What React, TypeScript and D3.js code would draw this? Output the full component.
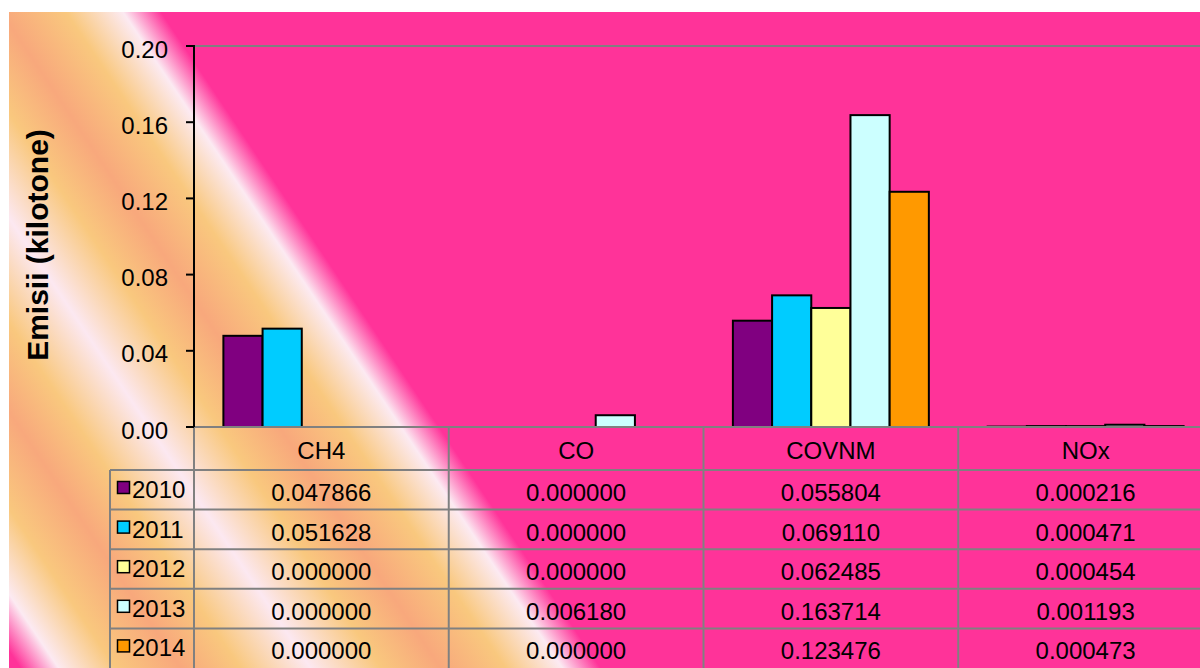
import React from "react";
import * as d3 from "d3";

const categories = ["CH4", "CO", "COVNM", "NOx"];
const years = ["2010", "2011", "2012", "2013", "2014"];
const v2010 = [0.047866, 0.0, 0.055804, 0.000216];
const v2011 = [0.051628, 0.0, 0.06911, 0.000471];
const v2012 = [0.0, 0.0, 0.062485, 0.000454];
const v2013 = [0.0, 0.00618, 0.163714, 0.001193];
const v2014 = [0.0, 0.0, 0.123476, 0.000473];
const yTicks = [0, 0.04, 0.08, 0.12, 0.16, 0.2];
const seriesColors = ["#800080", "#00CCFF", "#FFFF99", "#CCFFFF", "#FF9900"];
const yTitle = "Emisii (kilotone)";

const series = [v2010, v2011, v2012, v2013, v2014];

const W = 1200;
const H = 668;
const bgX = 9;
const bgY = 12;
const plotLeft = 194;
const plotRight = 1213;
const plotTop = 46;
const plotBottom = 427;
const tableLeft = 110;
const headerBottom = 470;
const rowH = 39.6;
const FONT = "'Liberation Sans', Arial, Helvetica, sans-serif";
const GRID = "#808080";

// gradient stops in t = x - 0.67*y
const gradStops: [number, string][] = [
  [-440, "#FF3399"],
  [-427, "#FF3399"],
  [-389, "#FCEAF2"],
  [-332, "#F9C87E"],
  [-267, "#F8A87C"],
  [-207, "#F9C87E"],
  [-137, "#FCE8F1"],
  [-67, "#F9C87E"],
  [-7, "#F8A87C"],
  [58, "#F9C87E"],
  [115, "#FCEAF2"],
  [153, "#FF3399"],
  [160, "#FF3399"],
];

export default function App() {
  const x0 = d3.scaleBand<string>().domain(categories).range([plotLeft, plotRight]).padding(0);
  const bw = x0.bandwidth();
  const barW = bw / 6.5;
  const gap = bw - 5 * barW;
  const x1 = d3.scaleBand<string>().domain(years).range([gap / 2, bw - gap / 2]).padding(0);
  const y = d3.scaleLinear().domain([0, 0.2]).range([plotBottom, plotTop]);
  const fmtTick = d3.format(".2f");
  const fmtVal = d3.format(".6f");

  // gradient geometry
  const k = 0.67;
  const norm = Math.sqrt(1 + k * k);
  const nx = 1 / norm;
  const ny = -k / norm;
  const tMin = -440;
  const tMax = 160;
  const p0 = { x: 0, y: -tMin / k };
  const dist = (tMax - tMin) / norm;
  const p1 = { x: p0.x + dist * nx, y: p0.y + dist * ny };

  const rowTops = years.map((_, i) => headerBottom + i * rowH);
  const tableBottom = headerBottom + years.length * rowH;

  return (
    <svg
      width={W}
      height={H}
      style={{ position: "absolute", left: 0, top: 0, display: "block" }}
      fontFamily={FONT}
    >
      <defs>
        <linearGradient
          id="bgGrad"
          gradientUnits="userSpaceOnUse"
          x1={p0.x}
          y1={p0.y}
          x2={p1.x}
          y2={p1.y}
        >
          {gradStops.map(([t, c], i) => (
            <stop key={i} offset={(t - tMin) / (tMax - tMin)} stopColor={c} />
          ))}
        </linearGradient>
      </defs>
      <rect x={0} y={0} width={W} height={H} fill="#ffffff" />
      <rect x={bgX} y={bgY} width={W - bgX} height={H - bgY} fill="url(#bgGrad)" />

      {/* plot top border */}
      <line x1={plotLeft} x2={plotRight} y1={plotTop} y2={plotTop} stroke={GRID} strokeWidth={2} />

      {/* bars */}
      {categories.map((cat, ci) =>
        years.map((yr, si) => {
          const v = series[si][ci];
          if (!(v > 0)) return null;
          const bx = (x0(cat) as number) + (x1(yr) as number);
          const by = y(v);
          return (
            <rect
              key={cat + yr}
              x={bx}
              y={by}
              width={x1.bandwidth()}
              height={plotBottom - by}
              fill={seriesColors[si]}
              stroke="#000"
              strokeWidth={2}
            />
          );
        })
      )}

      {/* table grid */}
      <line x1={plotLeft} x2={plotRight} y1={plotBottom} y2={plotBottom} stroke={GRID} strokeWidth={2} />
      {rowTops.map((rt, i) => (
        <line key={"h" + i} x1={tableLeft} x2={plotRight} y1={rt} y2={rt} stroke={GRID} strokeWidth={2} />
      ))}
      <line x1={tableLeft} x2={tableLeft} y1={headerBottom} y2={tableBottom} stroke={GRID} strokeWidth={2} />
      {categories.map((cat) => (
        <line
          key={"v" + cat}
          x1={x0(cat) as number}
          x2={x0(cat) as number}
          y1={plotBottom}
          y2={tableBottom}
          stroke={GRID}
          strokeWidth={2}
        />
      ))}

      {/* y axis */}
      <line x1={plotLeft} x2={plotLeft} y1={plotTop - 1} y2={plotBottom} stroke="#000" strokeWidth={2} />
      {yTicks.map((t) => (
        <g key={"t" + t}>
          <line x1={plotLeft - 8} x2={plotLeft} y1={y(t)} y2={y(t)} stroke="#000" strokeWidth={2} />
          <text x={168} y={y(t) + 11.5} textAnchor="end" fontSize={24} fill="#000">
            {fmtTick(t)}
          </text>
        </g>
      ))}
      <text
        transform={`translate(48,245) rotate(-90)`}
        textAnchor="middle"
        fontSize={30}
        fontWeight="bold"
        fill="#000"
      >
        {yTitle}
      </text>

      {/* header labels */}
      {categories.map((cat) => (
        <text
          key={"c" + cat}
          x={(x0(cat) as number) + bw / 2}
          y={plotBottom + 32}
          textAnchor="middle"
          fontSize={24}
          fill="#000"
        >
          {cat}
        </text>
      ))}

      {/* rows */}
      {years.map((yr, si) => (
        <g key={"r" + yr}>
          <rect
            x={117.5}
            y={rowTops[si] + 11.5}
            width={12}
            height={12}
            fill={seriesColors[si]}
            stroke="#000"
            strokeWidth={1.5}
          />
          <text x={132} y={rowTops[si] + 28} fontSize={24} fill="#000">
            {yr}
          </text>
          {categories.map((cat, ci) => (
            <text
              key={"val" + yr + cat}
              x={(x0(cat) as number) + bw / 2}
              y={rowTops[si] + 31}
              textAnchor="middle"
              fontSize={24}
              fill="#000"
            >
              {fmtVal(series[si][ci])}
            </text>
          ))}
        </g>
      ))}
    </svg>
  );
}
